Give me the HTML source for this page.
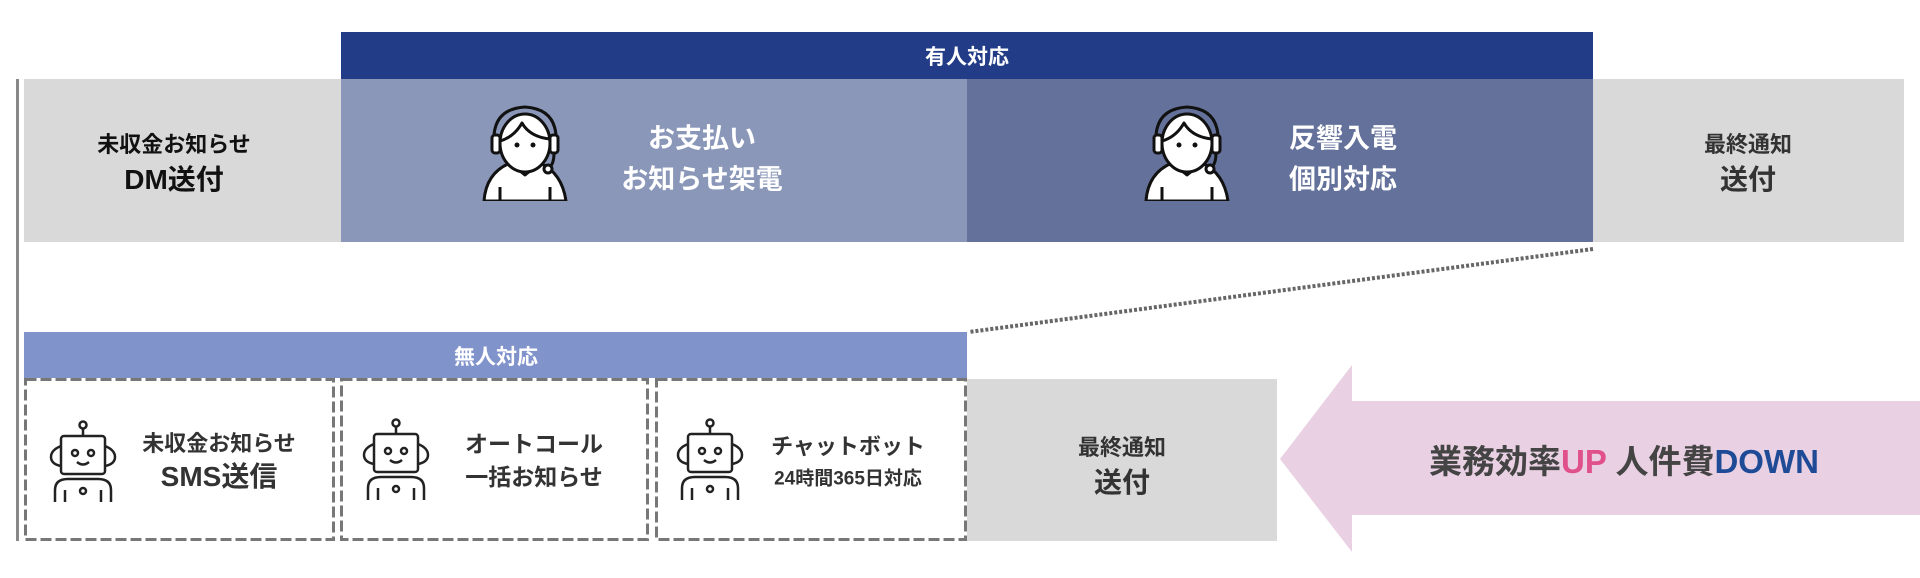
<!DOCTYPE html>
<html><head><meta charset="utf-8"><style>
body{margin:0;width:1920px;height:578px;background:#fff;position:relative;overflow:hidden;font-family:"Liberation Sans","Noto Sans CJK JP",sans-serif;font-weight:bold}
.a{position:absolute;box-sizing:border-box}
.t{position:absolute;transform:translate(-50%,-50%);white-space:nowrap;text-align:center}
</style></head><body>
<div class="a" style="left:16px;top:79px;width:3px;height:462px;background:#888"></div>
<div class="a" style="left:341px;top:32px;width:1252px;height:47px;background:#233c88"></div>
<div class="t" style="left:967px;top:56px;color:#fff;font-size:21px">有人対応</div>
<div class="a" style="left:24px;top:79px;width:317px;height:163px;background:#d9d9d9"></div>
<div class="a" style="left:341px;top:79px;width:626px;height:163px;background:#8a97b8"></div>
<div class="a" style="left:967px;top:79px;width:626px;height:163px;background:#64729b"></div>
<div class="a" style="left:1593px;top:79px;width:311px;height:163px;background:#d9d9d9"></div>
<div class="t" style="left:174px;top:143px;font-size:22px;color:#111">未収金お知らせ</div>
<div class="t" style="left:174px;top:178px;font-size:28px;color:#111">DM送付</div>
<div class="t" style="left:702px;top:136px;font-size:27px;color:#fff">お支払い</div>
<div class="t" style="left:702px;top:177px;font-size:27px;color:#fff">お知らせ架電</div>
<div class="t" style="left:1343px;top:136px;font-size:27px;color:#fff">反響入電</div>
<div class="t" style="left:1343px;top:177px;font-size:27px;color:#fff">個別対応</div>
<div class="t" style="left:1748px;top:143px;font-size:22px;color:#333">最終通知</div>
<div class="t" style="left:1748px;top:178px;font-size:28px;color:#333">送付</div>
<svg class="a" style="left:480px;top:103px" width="90" height="98" viewBox="0 0 90 98">
<g fill="#fff" stroke="#111" stroke-width="3" stroke-linejoin="round">
<path d="M4 98 Q6 70 30 60 L45 72 L60 60 Q82 70 86 98 Z"/>
<ellipse cx="45" cy="40" rx="25" ry="29"/>
<path d="M20 38 Q34 34 42 20 Q50 34 70 36" fill="none"/>
<path d="M14 40 Q12 6 45 4 Q78 6 76 40" fill="none"/>
<rect x="12" y="32" width="8" height="18" rx="3"/><rect x="70" y="32" width="8" height="18" rx="3"/>
<path d="M74 50 Q74 60 70 64" fill="none"/><circle cx="68" cy="66" r="4"/>
<path d="M20 98 V84 M70 98 V84" fill="none"/>
</g><circle cx="37" cy="42" r="2.5" fill="#111"/><circle cx="53" cy="42" r="2.5" fill="#111"/></svg>
<svg class="a" style="left:1142px;top:103px" width="90" height="98" viewBox="0 0 90 98">
<g fill="#fff" stroke="#111" stroke-width="3" stroke-linejoin="round">
<path d="M4 98 Q6 70 30 60 L45 72 L60 60 Q82 70 86 98 Z"/>
<ellipse cx="45" cy="40" rx="25" ry="29"/>
<path d="M20 38 Q34 34 42 20 Q50 34 70 36" fill="none"/>
<path d="M14 40 Q12 6 45 4 Q78 6 76 40" fill="none"/>
<rect x="12" y="32" width="8" height="18" rx="3"/><rect x="70" y="32" width="8" height="18" rx="3"/>
<path d="M74 50 Q74 60 70 64" fill="none"/><circle cx="68" cy="66" r="4"/>
<path d="M20 98 V84 M70 98 V84" fill="none"/>
</g><circle cx="37" cy="42" r="2.5" fill="#111"/><circle cx="53" cy="42" r="2.5" fill="#111"/></svg>
<svg class="a" style="left:960px;top:240px" width="640" height="100"><line x1="633" y1="9" x2="9" y2="92" stroke="#666" stroke-width="4" stroke-dasharray="3 2"/></svg>
<div class="a" style="left:24px;top:332px;width:943px;height:46px;background:#8193cb"></div>
<div class="t" style="left:496px;top:356px;color:#fff;font-size:21px">無人対応</div>
<svg class="a" style="left:0;top:370px" width="980" height="180">
<g fill="#fff" stroke="#777" stroke-width="3" stroke-dasharray="11 4">
<rect x="25.5" y="9.5" width="308" height="160"/>
<rect x="341.5" y="9.5" width="306" height="160"/>
<rect x="656.5" y="9.5" width="309" height="160"/>
</g></svg>
<div class="a" style="left:967px;top:379px;width:310px;height:162px;background:#d9d9d9"></div>
<div class="t" style="left:219px;top:442px;font-size:22px;color:#333">未収金お知らせ</div>
<div class="t" style="left:219px;top:475px;font-size:28px;color:#333">SMS送信</div>
<div class="t" style="left:534px;top:442px;font-size:23px;color:#333">オートコール</div>
<div class="t" style="left:534px;top:475px;font-size:23px;color:#333">一括お知らせ</div>
<div class="t" style="left:848px;top:445px;font-size:22px;color:#333">チャットボット</div>
<div class="t" style="left:848px;top:477px;font-size:19px;color:#333">24時間365日対応</div>
<div class="t" style="left:1122px;top:446px;font-size:22px;color:#333">最終通知</div>
<div class="t" style="left:1122px;top:481px;font-size:28px;color:#333">送付</div>
<svg class="a" style="left:48px;top:420px" width="70" height="82" viewBox="0 0 70 82"><g fill="none" stroke="#222" stroke-width="2.5"><circle cx="35" cy="5" r="3.5"/><line x1="35" y1="9" x2="35" y2="16"/><rect x="13" y="16" width="44" height="38" rx="3"/><path d="M13 26 Q3 30 3 37 Q3 44 13 46 M57 26 Q67 30 67 37 Q67 44 57 46"/><circle cx="27" cy="33" r="3"/><circle cx="43" cy="33" r="3"/><path d="M29 42 Q35 47 41 42"/><path d="M7 82 V70 Q7 59 20 59 H50 Q63 59 63 70 V82 M17 82 V70 M53 82 V70"/><circle cx="35" cy="71" r="3"/></g></svg>
<svg class="a" style="left:361px;top:418px" width="70" height="82" viewBox="0 0 70 82"><g fill="none" stroke="#222" stroke-width="2.5"><circle cx="35" cy="5" r="3.5"/><line x1="35" y1="9" x2="35" y2="16"/><rect x="13" y="16" width="44" height="38" rx="3"/><path d="M13 26 Q3 30 3 37 Q3 44 13 46 M57 26 Q67 30 67 37 Q67 44 57 46"/><circle cx="27" cy="33" r="3"/><circle cx="43" cy="33" r="3"/><path d="M29 42 Q35 47 41 42"/><path d="M7 82 V70 Q7 59 20 59 H50 Q63 59 63 70 V82 M17 82 V70 M53 82 V70"/><circle cx="35" cy="71" r="3"/></g></svg>
<svg class="a" style="left:675px;top:418px" width="70" height="82" viewBox="0 0 70 82"><g fill="none" stroke="#222" stroke-width="2.5"><circle cx="35" cy="5" r="3.5"/><line x1="35" y1="9" x2="35" y2="16"/><rect x="13" y="16" width="44" height="38" rx="3"/><path d="M13 26 Q3 30 3 37 Q3 44 13 46 M57 26 Q67 30 67 37 Q67 44 57 46"/><circle cx="27" cy="33" r="3"/><circle cx="43" cy="33" r="3"/><path d="M29 42 Q35 47 41 42"/><path d="M7 82 V70 Q7 59 20 59 H50 Q63 59 63 70 V82 M17 82 V70 M53 82 V70"/><circle cx="35" cy="71" r="3"/></g></svg>
<svg class="a" style="left:1280px;top:365px" width="640" height="188"><polygon points="0,94 72,0 72,36 640,36 640,150 72,150 72,187" fill="#e9d1e3"/></svg>
<div class="t" style="left:1624px;top:459px;font-size:33px;color:#444">業務効率<span style="color:#e0508a">UP</span> 人件費<span style="color:#1f4a96">DOWN</span></div>
</body></html>
